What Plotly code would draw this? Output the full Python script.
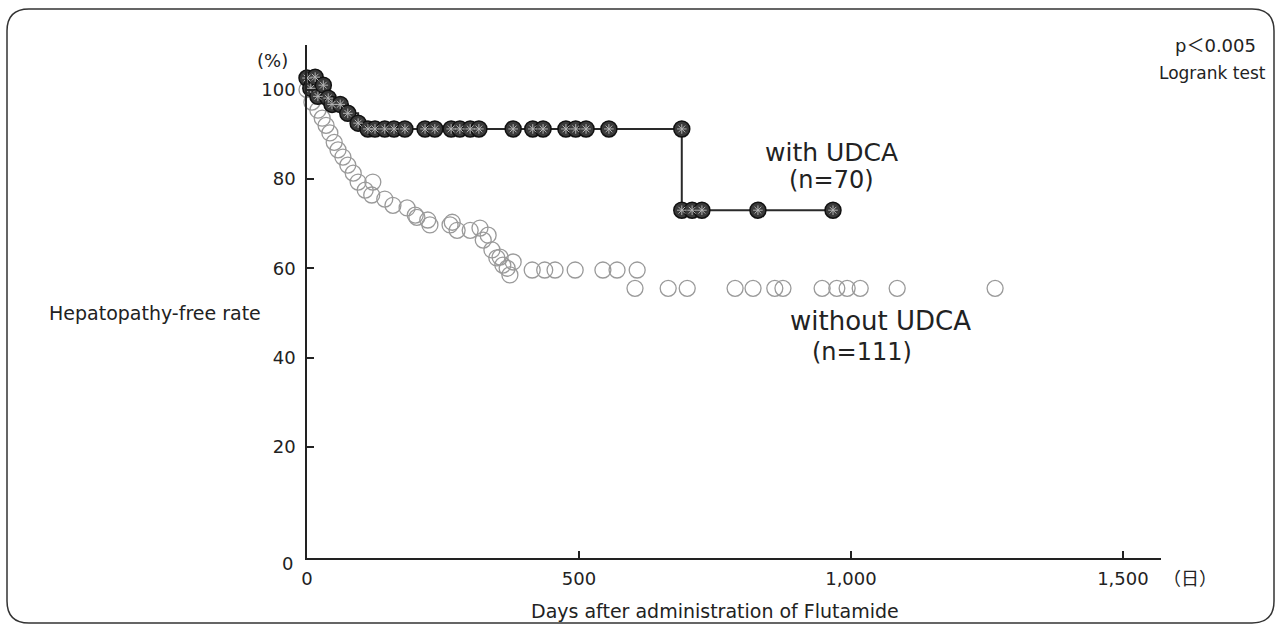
import plotly.graph_objects as go

# ---------------- data ----------------
with_days = [0, 7, 15, 20, 30, 39, 46, 61, 75, 94, 112,
             125, 143, 160, 180, 217, 235, 265, 281, 300, 316,
             379, 415, 434, 476, 494, 513, 555, 689,
             689, 708, 726, 829, 967]
with_vals = [102.6, 100.3, 102.8, 98.5, 101.0, 98.1, 96.7, 96.7, 94.7, 92.5, 91.2,
             91.2, 91.2, 91.2, 91.2, 91.2, 91.2, 91.2, 91.2, 91.2, 91.2,
             91.2, 91.2, 91.2, 91.2, 91.2, 91.2, 91.2, 91.2,
             73.0, 73.0, 73.0, 73.0, 73.0]

without_days = [0, 9, 20, 28, 35, 42, 50, 57, 66, 75, 85, 94, 107, 121, 119,
                143, 158, 184, 199, 202, 222, 226, 263, 267, 276, 300, 318,
                324, 333, 340, 349, 355, 360, 379, 373, 368,
                414, 437, 456, 493, 544, 570, 607,
                603, 664, 699, 787, 820, 860, 875, 947, 974, 993, 1017, 1085, 1265]
without_vals = [100.0, 97.2, 95.4, 93.6, 92.0, 90.3, 88.2, 86.5, 84.9, 83.1, 81.3, 79.3, 77.5, 79.3, 76.4,
                75.5, 74.1, 73.5, 71.9, 71.4, 70.8, 69.7, 69.7, 70.3, 68.5, 68.5, 69.0,
                66.3, 67.4, 64.1, 62.3, 62.5, 60.7, 61.4, 58.5, 60.0,
                59.6, 59.6, 59.6, 59.6, 59.6, 59.6, 59.6,
                55.5, 55.5, 55.5, 55.5, 55.5, 55.5, 55.5, 55.5, 55.5, 55.5, 55.5, 55.5, 55.5]

x_tick_vals = [0, 500, 1000, 1500]
x_tick_text = ["0", "500", "1,000", "1,500"]
y_tick_vals = [20, 40, 60, 80, 100]
y_tick_text = ["20", "40", "60", "80", "100"]

# ---------------- layout geometry ----------------
W, H = 1280, 626
L, R, T, B = 307, 119, 45, 68
PW, PH = W - L - R, H - T - B

def pxx(x):
    return (x - L) / PW

def pxy(y):
    return (H - B - y) / PH

FONT = "DejaVu Sans, Liberation Sans, Noto Sans CJK JP, sans-serif"
INK = "#222222"

fig = go.Figure()

# without UDCA: open circles
fig.add_trace(go.Scatter(
    x=without_days, y=without_vals, mode="markers", cliponaxis=False,
    marker=dict(symbol="circle-open", size=16, color="#9a9a9a",
                line=dict(width=1.3, color="#9a9a9a")),
    showlegend=False, hoverinfo="skip"))

# with UDCA: step line + dark filled circles
fig.add_trace(go.Scatter(
    x=with_days, y=with_vals, mode="lines+markers", cliponaxis=False,
    line=dict(shape="hv", color="#2a2a2a", width=2),
    marker=dict(symbol="circle", size=16, color="#3a3a3a",
                line=dict(width=1.5, color="#111111")),
    showlegend=False, hoverinfo="skip"))
# speckle inside dark markers
fig.add_trace(go.Scatter(
    x=with_days, y=with_vals, mode="markers", cliponaxis=False,
    marker=dict(symbol="asterisk-open", size=8, color="#b5b5b5",
                line=dict(width=1, color="#b5b5b5")),
    showlegend=False, hoverinfo="skip"))

ann = []
def text(x, y, s, size):
    ann.append(dict(x=pxx(x), y=pxy(y), xref="paper", yref="paper", text=s,
                    showarrow=False, font=dict(family=FONT, size=size, color=INK),
                    xanchor="center", yanchor="middle"))

text(272, 60, "(%)", 18)
text(287, 564, "0", 18)
text(155, 313, "Hepatopathy-free rate", 19)
text(715, 611, "Days after administration of Flutamide", 19)
text(1190, 578, "（日）", 18)
text(831, 152, "with UDCA", 25)
text(831, 180, "(n=70)", 24)
text(880, 321, "without UDCA", 26)
text(862, 352, "(n=111)", 24)
text(1215, 45, "p＜0.005", 18)
text(1212, 73, "Logrank test", 17)

# rounded frame
x0, x1 = pxx(7), pxx(1274)
y0, y1 = pxy(9), pxy(623)
rx, ry = 22 / PW, 22 / PH
path = (f"M {x0+rx},{y0} L {x1-rx},{y0} Q {x1},{y0} {x1},{y0-ry} "
        f"L {x1},{y1+ry} Q {x1},{y1} {x1-rx},{y1} "
        f"L {x0+rx},{y1} Q {x0},{y1} {x0},{y1+ry} "
        f"L {x0},{y0-ry} Q {x0},{y0} {x0+rx},{y0} Z")

fig.update_layout(
    width=W, height=H,
    margin=dict(l=L, r=R, t=T, b=B, autoexpand=False),
    paper_bgcolor="white", plot_bgcolor="white",
    font=dict(family=FONT, size=18, color=INK),
    annotations=ann,
    shapes=[dict(type="path", path=path, xref="paper", yref="paper",
                 line=dict(color="#333333", width=1.5), fillcolor="rgba(0,0,0,0)")],
    xaxis=dict(range=[0, 1570], showgrid=False, zeroline=False,
               showline=True, linecolor=INK, linewidth=1.5,
               ticks="inside", ticklen=7, tickwidth=1.5, tickcolor=INK,
               tickvals=x_tick_vals, ticktext=x_tick_text,
               ticklabelstandoff=4,
               tickfont=dict(family=FONT, size=18, color=INK)),
    yaxis=dict(range=[-4.9, 110], showgrid=False, zeroline=False,
               showline=True, linecolor=INK, linewidth=1.5,
               ticks="inside", ticklen=7, tickwidth=1.5, tickcolor=INK,
               tickvals=y_tick_vals, ticktext=y_tick_text,
               ticklabelstandoff=6,
               tickfont=dict(family=FONT, size=18, color=INK)),
)

fig.write_html("out.html")
